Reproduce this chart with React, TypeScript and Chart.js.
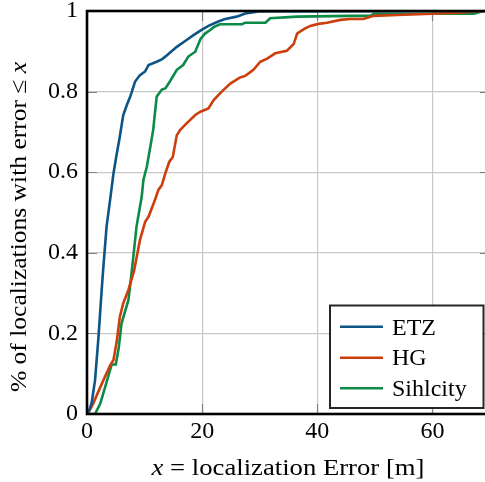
import React, { useEffect, useRef } from "react";
import { Chart, registerables } from "chart.js";
Chart.register(...registerables);

const seriesNames = ["ETZ", "HG", "Sihlcity"];
const seriesColors = ["#0d5585", "#cc3f0c", "#0c8a47"];

const etzX = [0, 0.4, 0.8, 1.4, 2.0, 2.55, 2.8, 3.4, 4.0, 4.6, 5.1, 5.6, 6.3, 7.0, 7.5, 8.35, 9.2, 10.1, 10.7, 12.1, 13.0, 13.9, 15.6, 17.3, 18.5, 19.9, 21.1, 22.8, 24.0, 26.0, 27.5, 29.8, 70];
const etzY = [0, 0.01, 0.027, 0.084, 0.192, 0.308, 0.357, 0.465, 0.53, 0.597, 0.64, 0.68, 0.742, 0.77, 0.787, 0.825, 0.841, 0.85, 0.866, 0.874, 0.88, 0.89, 0.911, 0.928, 0.94, 0.953, 0.963, 0.974, 0.98, 0.986, 0.994, 0.999, 1];

const hgX = [0, 0.5, 1.1, 2.6, 4.0, 4.6, 5.2, 5.7, 6.3, 7.2, 8.2, 9.2, 10.1, 10.7, 11.8, 12.4, 13.0, 13.6, 14.3, 14.9, 15.6, 16.2, 17.3, 18.8, 19.7, 21.1, 22.0, 23.4, 24.9, 26.6, 27.5, 28.9, 30.1, 31.3, 32.7, 34.7, 35.9, 36.5, 37.0, 37.9, 38.8, 40.2, 41.7, 44.0, 45.7, 48.0, 49.8, 53.9, 60, 64.3, 67.8, 70];
const hgY = [0, 0.01, 0.027, 0.076, 0.12, 0.134, 0.184, 0.241, 0.275, 0.308, 0.357, 0.432, 0.477, 0.49, 0.531, 0.556, 0.568, 0.597, 0.626, 0.638, 0.692, 0.705, 0.721, 0.742, 0.75, 0.758, 0.779, 0.8, 0.82, 0.835, 0.839, 0.854, 0.874, 0.882, 0.895, 0.901, 0.918, 0.944, 0.949, 0.957, 0.963, 0.968, 0.971, 0.978, 0.98, 0.98, 0.988, 0.99, 0.993, 0.996, 0.999, 1];

const sihlX = [0, 1.4, 2.3, 3.1, 4.0, 4.3, 5.0, 5.5, 6.0, 7.2, 7.8, 8.6, 9.5, 9.8, 10.4, 11.0, 11.5, 12.1, 13.0, 13.6, 14.4, 15.6, 16.7, 17.6, 18.8, 19.7, 20.5, 21.4, 22.0, 23.1, 26.9, 27.5, 31.0, 31.8, 36.5, 45.7, 49.2, 49.8, 67.2, 68.9, 70];
const sihlY = [0, 0, 0.026, 0.064, 0.109, 0.123, 0.123, 0.163, 0.225, 0.283, 0.357, 0.465, 0.539, 0.581, 0.614, 0.663, 0.705, 0.787, 0.805, 0.808, 0.825, 0.854, 0.866, 0.887, 0.899, 0.93, 0.944, 0.953, 0.96, 0.967, 0.967, 0.971, 0.971, 0.982, 0.986, 0.988, 0.988, 0.993, 0.993, 1, 1];

const xTicks = [0, 20, 40, 60];
const yTicks = [0, 0.2, 0.4, 0.6, 0.8, 1];
const yTickLabels = ["0", "0.2", "0.4", "0.6", "0.8", "1"];
const xTitle: [string, boolean][] = [["x", true], [" = localization Error [m]", false]];
const yTitle: [string, boolean][] = [["% of localizations with error \u2264 ", false], ["x", true]];

const FONT_FAMILY = '"Liberation Serif", "Times New Roman", serif';
const FS = 23;

function drawMixed(ctx: CanvasRenderingContext2D, parts: [string, boolean][], cx: number, y: number, stretch: number) {
  const widths = parts.map(([t, it]) => {
    ctx.font = `${it ? "italic " : ""}${FS}px ${FONT_FAMILY}`;
    return ctx.measureText(t).width;
  });
  const total = widths.reduce((a, b) => a + b, 0);
  ctx.save();
  ctx.translate(cx, y);
  ctx.scale(stretch, 1);
  let x = -total / 2;
  parts.forEach(([t, it], i) => {
    ctx.font = `${it ? "italic " : ""}${FS}px ${FONT_FAMILY}`;
    ctx.fillText(t, x, 0);
    x += widths[i];
  });
  ctx.restore();
}

const decorPlugin = {
  id: "decor",
  beforeDatasetsDraw(chart: any) {
    const { ctx, chartArea: a, scales } = chart;
    ctx.save();
    ctx.strokeStyle = "#808080";
    ctx.lineWidth = 1.2;
    const tl = 10;
    xTicks.forEach((v) => {
      const px = Math.round(scales.x.getPixelForValue(v)) + 0.5;
      ctx.beginPath();
      ctx.moveTo(px, a.bottom);
      ctx.lineTo(px, a.bottom - tl);
      ctx.moveTo(px, a.top);
      ctx.lineTo(px, a.top + tl);
      ctx.stroke();
    });
    yTicks.forEach((v) => {
      const py = Math.round(scales.y.getPixelForValue(v)) + 0.5;
      ctx.beginPath();
      ctx.moveTo(a.left, py);
      ctx.lineTo(a.left + tl, py);
      ctx.moveTo(a.right, py);
      ctx.lineTo(a.right - tl, py);
      ctx.stroke();
    });
    ctx.restore();
  },
  afterDatasetsDraw(chart: any) {
    const { ctx, chartArea: a } = chart;
    ctx.save();
    ctx.strokeStyle = "#000";
    ctx.lineWidth = 2.6;
    ctx.strokeRect(a.left, a.top, a.right - a.left, a.bottom - a.top);

    const lx = 330, ly = 305.5, lw = 153.5, lh = 102.5;
    ctx.fillStyle = "#fff";
    ctx.fillRect(lx, ly, lw, lh);
    ctx.strokeStyle = "#262626";
    ctx.lineWidth = 2;
    ctx.strokeRect(lx, ly, lw, lh);
    const rows = [326.7, 357.7, 388.3];
    const baselines = [334.5, 365.3, 396];
    chart.data.datasets.forEach((ds: any, i: number) => {
      ctx.strokeStyle = ds.borderColor;
      ctx.lineWidth = 2.6;
      ctx.beginPath();
      ctx.moveTo(340, rows[i]);
      ctx.lineTo(383, rows[i]);
      ctx.stroke();
      ctx.fillStyle = "#000";
      ctx.font = `${FS + 1}px ${FONT_FAMILY}`;
      ctx.textBaseline = "alphabetic";
      ctx.textAlign = "left";
      ctx.fillText(ds.label, 392, baselines[i]);
    });

    ctx.fillStyle = "#000";
    ctx.textAlign = "left";
    ctx.textBaseline = "alphabetic";
    drawMixed(ctx, xTitle, 288, 475, 1.16);
    ctx.save();
    ctx.translate(26, 227);
    ctx.rotate(-Math.PI / 2);
    drawMixed(ctx, yTitle, 0, 0, 1.11);
    ctx.restore();
    ctx.restore();
  },
};

export default function App() {
  const ref = useRef<HTMLCanvasElement | null>(null);
  useEffect(() => {
    if (!ref.current) return;
    const mk = (xs: number[], ys: number[]) => xs.map((x, i) => ({ x, y: ys[i] }));
    const series = [mk(etzX, etzY), mk(hgX, hgY), mk(sihlX, sihlY)];
    const zeroPad = (s: any) => { s.paddingTop = 0; s.paddingBottom = 0; s.paddingLeft = 0; s.paddingRight = 0; };
    const chart = new Chart(ref.current, {
      type: "line",
      data: {
        datasets: series.map((d, i) => ({
          label: seriesNames[i],
          data: d,
          borderColor: seriesColors[i],
          backgroundColor: seriesColors[i],
          borderWidth: 2.6,
          pointRadius: 0,
          tension: 0,
          fill: false,
        })),
      },
      options: {
        animation: false,
        responsive: false,
        devicePixelRatio: 1,
        layout: { padding: { top: 11, left: 0, right: 0, bottom: 0 } },
        plugins: { legend: { display: false }, tooltip: { enabled: false } },
        scales: {
          x: {
            type: "linear",
            min: 0,
            max: 70,
            afterFit: (s: any) => { s.height = 68; zeroPad(s); },
            afterBuildTicks: (s: any) => { s.ticks = xTicks.map((v) => ({ value: v })); },
            border: { display: false },
            grid: { color: "#c8c8c8", lineWidth: 1.2, drawTicks: false },
            ticks: {
              color: "#000",
              font: { family: FONT_FAMILY, size: 24 },
              padding: 3,
              maxRotation: 0,
              callback: (v: any) => String(v),
            },
          },
          y: {
            type: "linear",
            min: 0,
            max: 1,
            afterFit: (s: any) => { s.width = 87; zeroPad(s); },
            afterBuildTicks: (s: any) => { s.ticks = yTicks.map((v) => ({ value: v })); },
            border: { display: false },
            grid: { color: "#c8c8c8", lineWidth: 1.2, drawTicks: false },
            ticks: {
              color: "#000",
              font: { family: FONT_FAMILY, size: 24 },
              padding: 9,
              callback: (v: any) => {
                const i = yTicks.findIndex((t) => Math.abs(t - v) < 1e-9);
                return i >= 0 ? yTickLabels[i] : "";
              },
            },
          },
        },
      },
      plugins: [decorPlugin],
    });
    return () => chart.destroy();
  }, []);
  return (
    <div style={{ position: "fixed", left: 0, top: 0, width: 485, height: 482, overflow: "hidden", background: "#fff" }}>
      <canvas ref={ref} width={490} height={482} style={{ width: 490, height: 482, display: "block" }} />
    </div>
  );
}
